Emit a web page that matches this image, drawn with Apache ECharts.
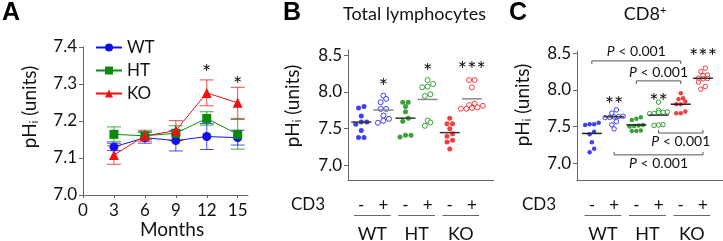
<!DOCTYPE html>
<html>
<head>
<meta charset="utf-8">
<script src="https://cdn.jsdelivr.net/npm/echarts@6/dist/echarts.min.js"></script>
<style>
  html, body { margin: 0; padding: 0; background: #fff; }
  #chart { width: 723px; height: 241px; }
</style>
</head>
<body>
<div id="chart"></div>
<script>
// ---- panel A: pHi vs age ----
const months = [3, 6, 9, 12, 15];
const wtMean = [7.130, 7.155, 7.147, 7.158, 7.155];
const wtErr  = [0.010, 0.015, 0.028, 0.035, 0.020];
const htMean = [7.164, 7.160, 7.167, 7.207, 7.164];
const htErr  = [0.020, 0.010, 0.020, 0.018, 0.040];
const koMean = [7.108, 7.160, 7.174, 7.276, 7.249];
const koErr  = [0.025, 0.015, 0.027, 0.035, 0.042];
const monthTicks = [0, 3, 6, 9, 12, 15];
const pHticksA = [7.0, 7.1, 7.2, 7.3, 7.4];
const starsA = [[12, 7.330, '*'], [15, 7.297, '*']];

// ---- shared for B and C ----
const cd3Labels = ['-', '+', '-', '+', '-', '+'];
const genotypes = ['WT', 'HT', 'KO'];
const pHticksBC = [7.0, 7.5, 8.0, 8.5];

// ---- panel B: total lymphocytes ----
const totWTneg = [7.80, 7.78, 7.67, 7.59, 7.56, 7.59, 7.475, 7.38, 7.38];
const totWTpos = [7.949, 7.904, 7.859, 7.768, 7.768, 7.678, 7.633, 7.606, 7.579];
const totHTneg = [7.86, 7.86, 7.80, 7.73, 7.64, 7.60, 7.41, 7.385, 7.41];
const totHTpos = [8.161, 8.107, 8.071, 8.062, 7.967, 7.944, 7.610, 7.583, 7.538];
const totKOneg = [7.642, 7.565, 7.565, 7.497, 7.430, 7.394, 7.340, 7.317, 7.222];
const totKOpos = [8.161, 8.161, 8.062, 7.84, 7.82, 7.79, 7.77, 7.77, 7.78, 7.81];
const totMeans = [7.588, 7.752, 7.642, 7.897, 7.445, 7.905];
const starsB = [[2, 8.069, '*'], [4, 8.273, '*'], [6, 8.297, '***']];

// ---- panel C: CD8+ ----
const cd8WTneg = [7.53, 7.52, 7.55, 7.53, 7.43, 7.395, 7.286, 7.195, 7.149];
const cd8WTpos = [7.727, 7.682, 7.64, 7.635, 7.63, 7.625, 7.621, 7.567, 7.522, 7.467];
const cd8HTneg = [7.604, 7.627, 7.59, 7.522, 7.499, 7.508, 7.513, 7.44, 7.444, 7.44];
const cd8HTpos = [7.832, 7.72, 7.70, 7.695, 7.69, 7.68, 7.675, 7.525, 7.515, 7.52];
const cd8KOneg = [7.954, 7.886, 7.872, 7.84, 7.804, 7.804, 7.704, 7.68, 7.68];
const cd8KOpos = [8.295, 8.249, 8.204, 8.195, 8.16, 8.15, 8.155, 8.104, 8.045, 8.009];
const cd8Means = [7.405, 7.632, 7.522, 7.655, 7.804, 8.158];
const starsC = [[2, 7.795, '**'], [4, 7.840, '**'], [6, 8.454, '***']];
// brackets: [from, to, y, tick end y, label y]
const bracketsC = [
  [1, 5, 8.395, 8.353, 8.525],
  [3, 5, 8.122, 8.080, 8.238],
  [4, 6, 7.411, 7.452, 7.297],
  [2, 6, 7.113, 7.153, 6.990]
];

const FONT = 'Lato, "Open Sans", sans-serif';
const BLUE = '#1010f0', GREEN = '#0a8a0a', RED = '#f01010';
const groupColors = [BLUE, BLUE, GREEN, GREEN, RED, RED];

const grids = [
  { left: 83, top: 47, width: 165, height: 148 },
  { left: 348, top: 50, width: 146, height: 130 },
  { left: 577, top: 51, width: 146, height: 129 }
];
const yRange = [[7.0, 7.4], [6.8, 8.57], [6.77, 8.53]];
const xRange = [[0, 16], [0.4, 7.0], [0.33, 6.9]];

// place dots of nearly equal value side by side (simple row swarm)
function swarm(vals, pxPerY, thr, step, maxRow) {
  const order = vals.map((v, i) => i).sort((a, b) => vals[a] - vals[b]);
  const off = new Array(vals.length).fill(0);
  let row = [];
  const flush = () => {
    row.forEach((idx, k) => { off[idx] = (k - (row.length - 1) / 2) * step; });
    row = [];
  };
  order.forEach(i => {
    if (row.length && ((vals[i] - vals[row[0]]) * pxPerY >= thr || row.length >= maxRow)) flush();
    row.push(i);
  });
  flush();
  return off;
}

function dotSeries(groups, panel, size, step) {
  const g = grids[panel];
  const pxY = g.height / (yRange[panel][1] - yRange[panel][0]);
  const pxX = g.width / (xRange[panel][1] - xRange[panel][0]);
  return groups.map((vals, gi) => {
    const off = swarm(vals, pxY, 4, step, 5);
    const filled = gi % 2 === 0;
    return {
      type: 'scatter', xAxisIndex: panel, yAxisIndex: panel,
      symbol: 'circle', symbolSize: size,
      data: vals.map((v, i) => [gi + 1 + off[i] / pxX, v]),
      itemStyle: filled
        ? { color: groupColors[gi] }
        : { color: '#fff', borderColor: groupColors[gi], borderWidth: 1 },
      z: 3
    };
  });
}

function meanSeries(means, panel, colors) {
  return {
    type: 'custom', xAxisIndex: panel, yAxisIndex: panel, z: 4,
    data: means.map((m, i) => [i + 1, m]),
    renderItem: (params, api) => {
      const p = api.coord([api.value(0), api.value(1)]);
      return {
        type: 'line',
        shape: { x1: p[0] - 10, y1: p[1], x2: p[0] + 10, y2: p[1] },
        style: { stroke: colors[params.dataIndex], lineWidth: 1.5 }
      };
    }
  };
}

function textSeries(items, panel, size) {
  return {
    type: 'custom', xAxisIndex: panel, yAxisIndex: panel, z: 5,
    data: items.map(d => [d[0], d[1]]),
    renderItem: (params, api) => {
      const p = api.coord([api.value(0), api.value(1)]);
      return {
        type: 'text',
        style: {
          text: items[params.dataIndex][2], x: p[0], y: p[1],
          align: 'center', verticalAlign: 'middle',
          fontFamily: FONT, fontSize: size, fill: '#111'
        }
      };
    }
  };
}

function errorSeries(means, errs, color) {
  return {
    type: 'custom', xAxisIndex: 0, yAxisIndex: 0, z: 1,
    data: months.map((m, i) => [m, means[i], errs[i]]),
    renderItem: (params, api) => {
      const x = api.value(0), m = api.value(1), e = api.value(2);
      const t = api.coord([x, m + e]), b = api.coord([x, m - e]);
      const st = { stroke: color, lineWidth: 1, opacity: 0.75 };
      return {
        type: 'group', children: [
          { type: 'line', shape: { x1: t[0], y1: t[1], x2: b[0], y2: b[1] }, style: st },
          { type: 'line', shape: { x1: t[0] - 7, y1: t[1], x2: t[0] + 7, y2: t[1] }, style: st },
          { type: 'line', shape: { x1: b[0] - 7, y1: b[1], x2: b[0] + 7, y2: b[1] }, style: st }
        ]
      };
    }
  };
}

function lineSeries(name, means, color, symbol, size) {
  return {
    name: name, type: 'line', xAxisIndex: 0, yAxisIndex: 0, z: 2,
    data: months.map((m, i) => [m, means[i]]),
    symbol: symbol, symbolSize: size, showSymbol: true,
    lineStyle: { color: color, width: 1 },
    itemStyle: { color: color }
  };
}

const bracketSeries = {
  type: 'custom', xAxisIndex: 2, yAxisIndex: 2, z: 5,
  data: bracketsC,
  renderItem: (params, api) => {
    const a = api.coord([api.value(0), api.value(2)]);
    const b = api.coord([api.value(1), api.value(2)]);
    const tk = api.coord([api.value(0), api.value(3)]);
    const lb = api.coord([(api.value(0) + api.value(1)) / 2, api.value(4)]);
    return {
      type: 'group', children: [
        {
          type: 'polyline',
          shape: { points: [[a[0], tk[1]], a, b, [b[0], tk[1]]] },
          style: { stroke: '#555', lineWidth: 1, fill: null }
        },
        {
          type: 'text',
          style: {
            text: '{i|P} < 0.001', x: lb[0], y: lb[1],
            align: 'center', verticalAlign: 'middle',
            fontFamily: FONT, fontSize: 14, fill: '#111',
            rich: { i: { fontStyle: 'italic', fontFamily: FONT, fontSize: 14, fill: '#111' } }
          }
        }
      ]
    };
  }
};

const axisLineStyle = { lineStyle: { color: '#666', width: 1 } };
const labelStyle = { color: '#111', fontFamily: FONT, fontSize: 17 };

const option = {
  animation: false,
  textStyle: { fontFamily: FONT },
  grid: grids,
  legend: {
    data: ['WT', 'HT', 'KO'],
    orient: 'vertical', left: 90, top: 34,
    itemWidth: 26, itemHeight: 10, itemGap: 6,
    textStyle: { fontFamily: FONT, fontSize: 17, color: '#111' }
  },
  xAxis: [
    {
      type: 'value', gridIndex: 0, min: xRange[0][0], max: xRange[0][1],
      splitLine: { show: false }, axisLine: axisLineStyle,
      axisTick: { show: true, length: 3, customValues: monthTicks, lineStyle: { color: '#666' } },
      axisLabel: Object.assign({ customValues: monthTicks, margin: 7 }, labelStyle)
    },
    {
      type: 'value', gridIndex: 1, min: xRange[1][0], max: xRange[1][1],
      splitLine: { show: false }, axisLine: axisLineStyle, axisTick: { show: false },
      axisLabel: Object.assign({ customValues: [1, 2, 3, 4, 5, 6], margin: 17,
        formatter: v => cd3Labels[Math.round(v) - 1] }, labelStyle)
    },
    {
      type: 'value', gridIndex: 2, min: xRange[2][0], max: xRange[2][1],
      splitLine: { show: false }, axisLine: axisLineStyle, axisTick: { show: false },
      axisLabel: Object.assign({ customValues: [1, 2, 3, 4, 5, 6], margin: 17,
        formatter: v => cd3Labels[Math.round(v) - 1] }, labelStyle)
    }
  ],
  yAxis: [0, 1, 2].map(i => ({
    type: 'value', gridIndex: i, min: yRange[i][0], max: yRange[i][1],
    splitLine: { show: false }, axisLine: axisLineStyle,
    axisTick: { show: true, length: 4, customValues: i === 0 ? pHticksA : pHticksBC, lineStyle: { color: '#666' } },
    axisLabel: Object.assign({ customValues: i === 0 ? pHticksA : pHticksBC, margin: 6,
      formatter: v => v.toFixed(1) }, labelStyle)
  })),
  series: [
    errorSeries(wtMean, wtErr, BLUE),
    errorSeries(htMean, htErr, GREEN),
    errorSeries(koMean, koErr, RED),
    lineSeries('WT', wtMean, BLUE, 'circle', 9),
    lineSeries('HT', htMean, GREEN, 'rect', 9),
    lineSeries('KO', koMean, RED, 'triangle', 10),
    textSeries(starsA, 0, 22),
    ...dotSeries([totWTneg, totWTpos, totHTneg, totHTpos, totKOneg, totKOpos], 1, 5, 5.5),
    meanSeries(totMeans, 1, ['#333', '#888', '#333', '#888', '#333', '#888']),
    textSeries(starsB, 1, 22),
    ...dotSeries([cd8WTneg, cd8WTpos, cd8HTneg, cd8HTpos, cd8KOneg, cd8KOpos], 2, 4.5, 4.5),
    meanSeries(cd8Means, 2, ['#222', '#333', '#222', '#333', '#222', '#333']),
    textSeries(starsC, 2, 22),
    bracketSeries
  ]
};

const chart = echarts.init(document.getElementById('chart'), null, { renderer: 'canvas' });
chart.setOption(option);

// annotations: panel letters, titles, axis names, genotype groups
const yName = (x, y) => ({
  type: 'text', x: x, y: y, rotation: Math.PI / 2,
  style: {
    text: '{a|pH}{s|i}{a| (units)}', align: 'center', verticalAlign: 'middle',
    rich: {
      a: { fontFamily: FONT, fontSize: 19, fill: '#111' },
      s: { fontFamily: FONT, fontSize: 11, fill: '#111', verticalAlign: 'bottom' }
    }
  }
});
const letter = (t, x) => ({
  type: 'text', x: x, y: 1,
  style: { text: t, fontFamily: '"Liberation Sans", Arial, sans-serif', fontWeight: 'bold', fontSize: 25, fill: '#000' }
});
const plain = (t, x, y, size, align) => ({
  type: 'text', x: x, y: y,
  style: { text: t, fontFamily: FONT, fontSize: size, fill: '#111', align: align || 'center', verticalAlign: 'middle' }
});

const graphics = [
  letter('A', 2), letter('B', 283), letter('C', 509),
  plain('Months', 172, 230, 19),
  plain('Total lymphocytes', 343, 14, 18, 'left'),
  {
    type: 'text', x: 645, y: 14,
    style: {
      text: '{a|CD8}{p|+}', align: 'center', verticalAlign: 'middle',
      rich: {
        a: { fontFamily: FONT, fontSize: 18, fill: '#111' },
        p: { fontFamily: FONT, fontSize: 11, fill: '#111', verticalAlign: 'top' }
      }
    }
  },
  yName(30, 107), yName(293, 106), yName(523, 105),
  plain('CD3', 308, 205, 17), plain('CD3', 539, 205, 17)
];
[1, 2].forEach(ax => {
  genotypes.forEach((g, k) => {
    const c = 2 * k + 1.5;
    const x0 = chart.convertToPixel({ xAxisIndex: ax }, c - 0.83);
    const x1 = chart.convertToPixel({ xAxisIndex: ax }, c + 0.83);
    const xm = chart.convertToPixel({ xAxisIndex: ax }, c);
    graphics.push({ type: 'line', shape: { x1: x0, y1: 215.5, x2: x1, y2: 215.5 }, style: { stroke: '#666', lineWidth: 1 } });
    graphics.push(plain(g, xm, 234, 18));
  });
});
chart.setOption({ graphic: graphics });
</script>
</body>
</html>
